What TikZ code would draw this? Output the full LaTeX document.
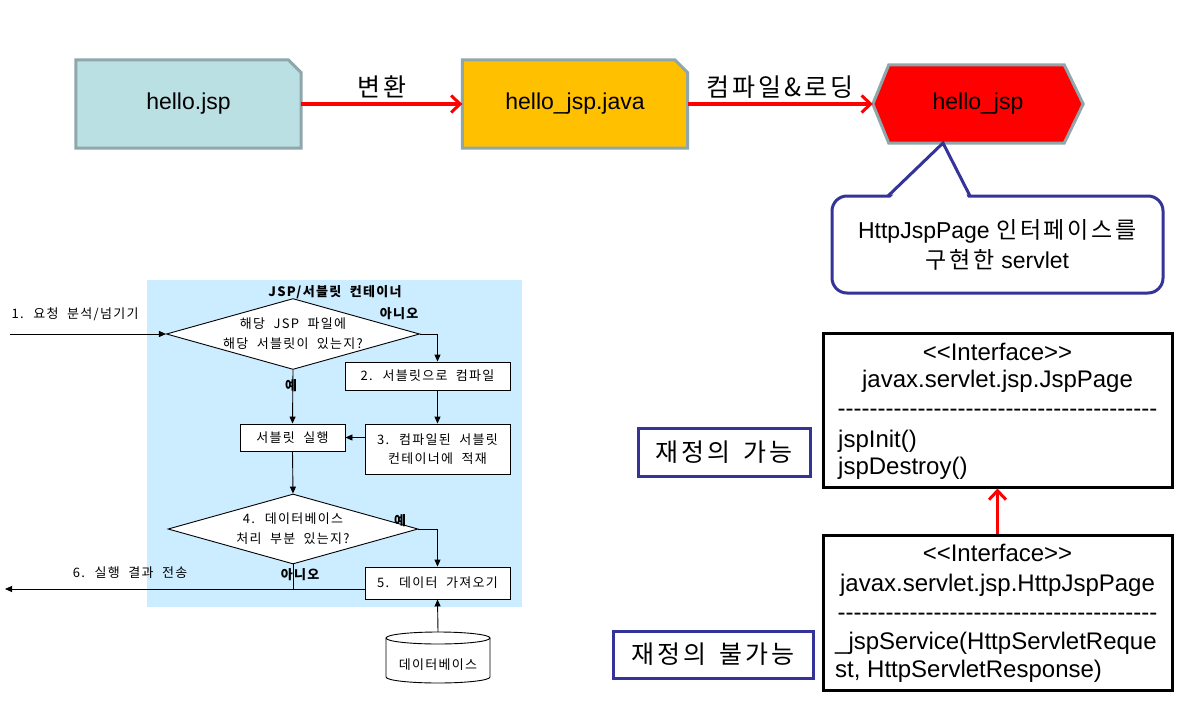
\documentclass[tikz,border=0pt]{standalone}
\usepackage{fontspec}
\setmainfont{Liberation Sans}
\newfontfamily\kr{Noto Sans CJK KR}[LetterSpace=12,WordSpace=1.6]
\newfontfamily\krf{Noto Sans CJK KR}[LetterSpace=10,WordSpace=2]
\usetikzlibrary{arrows.meta,shapes.geometric}
\pgfdeclarelayer{bg}
\pgfsetlayers{bg,main}
\definecolor{jspblue}{RGB}{187,224,227}
\definecolor{javaor}{RGB}{255,192,0}
\definecolor{bordgray}{RGB}{143,166,170}
\definecolor{navy}{RGB}{51,51,153}
\definecolor{fcbg}{RGB}{204,236,255}
\newcommand\hyrow{\foreach \i in {1,...,40}{\mbox{-}}}
\begin{document}
\begin{tikzpicture}[x=1pt,y=-1pt,
 tb/.style={minimum width=225pt, minimum height=88pt, inner sep=0pt, font=\fontsize{23}{27}\selectfont},
 gborder/.style={draw=bordgray, line width=3pt},
 redarr/.style={draw=red, line width=3.5pt, -{Straight Barb[length=9pt,width=17pt,line width=3pt]}},
 krlab/.style={font=\kr\fontsize{25}{28}\selectfont, inner sep=1pt},
 uml/.style={draw=black, line width=3pt, minimum width=349pt, minimum height=154pt, inner sep=0pt},
 umltxt/.style={font=\fontsize{24}{27}\selectfont, inner sep=0pt, text height=17pt, text depth=5pt},
 navybox/.style={draw=navy, line width=3pt, inner sep=0pt, font=\kr\fontsize{25}{28}\selectfont},
 fline/.style={draw=black, line width=0.9pt},
 farr/.style={fline, -{Triangle[length=7pt,width=6pt]}},
 fbox/.style={fline, fill=white, inner sep=0pt, align=center, font=\krf\fontsize{13}{19}\selectfont},
 fdiam/.style={fbox, diamond, minimum width=250pt, minimum height=70pt, aspect=3.57, font=\krf\fontsize{13}{20}\selectfont},
 ftxt/.style={inner sep=0pt, font=\krf\fontsize{13}{16}\selectfont},
 fbold/.style={inner sep=0pt, font=\krf\bfseries\fontsize{13}{16}\selectfont},
]
\useasboundingbox (0,0) rectangle (1198,701);

% ---------- top row ----------
\node[tb] (hjsp) at (188.5,104) {hello.jsp};
\node[tb] (hjava) at (575,104) {hello\_jsp.java};
\node[tb, minimum width=210pt, minimum height=78pt] (hex) at (978,104) {hello\_jsp};
\begin{pgfonlayer}{bg}
\filldraw[gborder, fill=jspblue] (hjsp.south west) -- (hjsp.north west) -- ([xshift=-13pt]hjsp.north east) -- ([yshift=-13pt]hjsp.north east) -- (hjsp.south east) -- cycle;
\filldraw[gborder, fill=javaor] (hjava.south west) -- (hjava.north west) -- ([xshift=-13pt]hjava.north east) -- ([yshift=-13pt]hjava.north east) -- (hjava.south east) -- cycle;
\filldraw[gborder, fill=red] (hex.west) -- ([xshift=16pt]hex.north west) -- ([xshift=-19pt]hex.north east) -- (hex.east) -- ([xshift=-19pt]hex.south east) -- ([xshift=16pt]hex.south west) -- cycle;
\end{pgfonlayer}
\draw[redarr] (hjsp.east) -- node[krlab, above=3pt] (lab1) {변환} (hjava.west);
\draw[redarr] (hjava.east) -- node[krlab, above=3pt] (lab2) {컴파일\&로딩} (hex.west);

% ---------- callout ----------
\node[draw=navy, line width=3pt, rounded corners=15pt, fill=white, minimum width=331pt, minimum height=97pt, inner sep=0pt, align=center, font=\fontsize{23}{30}\selectfont] (call) at (997.5,244.5) {HttpJspPage {\kr 인터페이스를}\\{\kr 구현한} servlet};
\coordinate (pl) at (888,196);
\coordinate (pt) at (943,143);
\coordinate (pr) at (970,196);
\fill[white] (890,198) -- (943,146) -- (968,198) -- cycle;
\draw[navy, line width=3pt] (pl) -- (pt) -- (pr);

% ---------- UML ----------
\node[uml] (u1) at (997.5,410) {};
\node[uml, minimum height=155pt] (u2) at (997.5,612.5) {};
\node[umltxt] (u1a) at (997.5,354) {<{}<Interface>{}>};
\node[umltxt] (u1b) at (997.5,381) {javax.servlet.jsp.JspPage};
\node[umltxt] (u1c) at (997.5,410) {\hyrow};
\node[umltxt, anchor=west] (u1d) at (838,441) {jspInit()};
\node[umltxt, anchor=west] (u1e) at (838,468) {jspDestroy()};
\node[umltxt] (u2a) at (997.5,555) {<{}<Interface>{}>};
\node[umltxt] (u2b) at (997.5,585) {javax.servlet.jsp.HttpJspPage};
\node[umltxt] (u2c) at (997.5,614) {\hyrow};
\node[umltxt, anchor=west] (u2d) at (835,643) {\_jspService(HttpServletReque};
\node[umltxt, anchor=west] (u2e) at (835,671) {st, HttpServletResponse)};
\draw[redarr] (u2.north) -- (u1.south);

\node[navybox, minimum width=172pt, minimum height=48pt] (ov1) at (724,452) {재정의 가능};
\node[navybox, minimum width=200pt, minimum height=47pt] (ov2) at (713,654.5) {재정의 불가능};

% ---------- flowchart ----------
\fill[fcbg] (147,280) rectangle (522,607);
\node[fbold] (title) at (335,292) {JSP/서블릿 컨테이너};
\node[fdiam] (d1) at (293,334) {해당 JSP 파일에\\해당 서블릿이 있는지?};
\node[fbox, minimum width=165pt, minimum height=28pt] (b2) at (427.5,376) {2. 서블릿으로 컴파일};
\node[fbox, minimum width=105pt, minimum height=27pt] (run) at (292.5,437.5) {서블릿 실행};
\node[fbox, minimum width=145pt, minimum height=50pt] (b3) at (437.5,449) {3. 컴파일된 서블릿\\컨테이너에 적재};
\node[fdiam] (d2) at (293,529) {4. 데이터베이스\\처리 부분 있는지?};
\node[fbox, minimum width=145pt, minimum height=32pt] (b5) at (437.5,583) {5. 데이터 가져오기};
\node[minimum width=104pt, minimum height=51pt, inner sep=0pt] (db) at (438,657.5) {};
\filldraw[fline, fill=white] (386,638) -- (386,677) arc[start angle=180, end angle=0, x radius=52, y radius=6] -- (490,638);
\filldraw[fline, fill=white] (438,638) ellipse [x radius=52, y radius=6];
\node[ftxt] (dbt) at (438,665) {데이터베이스};

\coordinate (inS) at (10,334);
\coordinate (outE) at (5,589);
\draw[farr] (inS) -- (d1.west);
\draw[farr] (d1.east) -| (b2.north -| b3.north);
\draw[farr] (b2.south -| b3.north) -- (b3.north);
\draw[farr] (b3.west |- run.east) -- (run.east);
\draw[farr] (d1.south) -- (run.north);
\draw[farr] (run.south) -- (d2.north);
\draw[farr] (d2.east) -| (b5.north);
\draw[fline] (d2.south) -- (d2.south |- outE);
\draw[farr] (b5.west |- outE) -- (outE);
\draw[farr] (db.north) -- (b5.south);

\node[ftxt] (l1) at (75,314) {1. 요청 분석/넘기기};
\node[fbold] (l2) at (399,314) {아니오};
\node[fbold] (l3) at (291,386) {예};
\node[fbold] (l4) at (400,521) {예};
\node[fbold] (l5) at (300,575) {아니오};
\node[ftxt] (l6) at (130,573) {6. 실행 결과 전송};
\end{tikzpicture}
\end{document}
